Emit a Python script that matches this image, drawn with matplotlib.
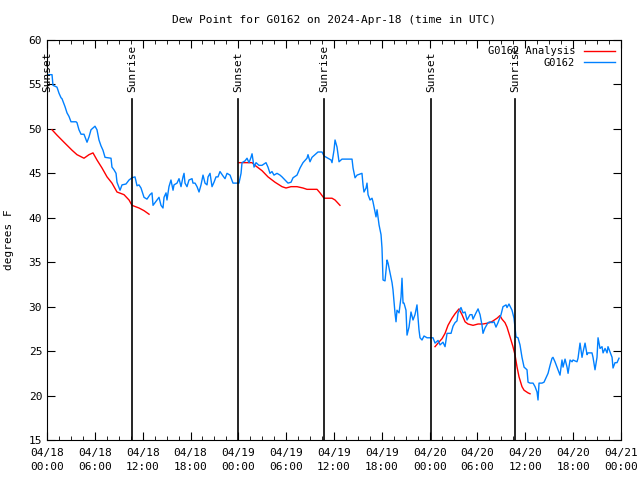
import matplotlib
matplotlib.use("Agg")
import matplotlib.pyplot as plt
import numpy as np

# hours since 2024-04-18 00:00 UTC
obs_hours = [0.0, 0.63, 0.75, 1.25, 1.51, 1.76, 1.88, 2.26, 2.51, 2.76, 3.01, 3.64, 3.76, 4.01, 4.27,
             4.64, 5.02, 5.27, 5.52, 5.77, 6.02, 6.27, 6.52, 6.77, 7.02, 7.28, 8.03, 8.15, 8.40, 8.66,
             8.78, 9.16, 9.41, 9.91, 10.29, 10.66, 11.04, 11.29, 11.54, 11.79, 12.17, 12.54, 12.92,
             13.17, 13.30, 13.55, 13.80, 14.05, 14.30, 14.55, 14.68, 14.93, 15.05, 15.30, 15.55,
             15.81, 15.93, 16.31, 16.56, 16.81, 17.06, 17.19, 17.31, 17.56, 17.81, 18.19, 18.31,
             18.57, 18.82, 19.07, 19.32, 19.57, 19.82, 20.07, 20.20, 20.45, 20.70, 20.95, 21.20,
             21.45, 21.70, 22.08, 22.33, 22.58, 22.96, 23.33, 24.08, 24.34, 24.46, 24.84, 25.09,
             25.34, 25.59, 25.72, 25.97, 26.22, 26.59, 26.97, 27.47, 27.72, 27.97, 28.22, 28.47,
             28.85, 29.23, 29.48, 29.85, 30.23, 30.61, 30.86, 31.36, 31.74, 32.11, 32.61, 32.74,
             32.99, 33.24, 33.62, 33.99, 34.50, 34.75, 35.25, 35.63, 35.75, 36.00, 36.13, 36.38,
             36.63, 37.00, 38.26, 38.39, 38.64, 38.89, 39.51, 39.64, 39.76, 40.02, 40.14, 40.27,
             40.52, 40.77, 40.89, 41.02, 41.27, 41.40, 41.65, 41.90, 42.02, 42.15, 42.40, 42.65,
             42.78, 43.03, 43.28, 43.40, 43.65, 43.78, 43.90, 44.16, 44.41, 44.53, 44.66, 44.78,
             45.03, 45.16, 45.41, 45.66, 45.91, 46.16, 46.41, 46.66, 46.79, 47.04, 47.29, 47.67,
             48.42, 48.67, 49.05, 49.30, 49.67, 49.93, 50.18, 50.68, 50.93, 51.18, 51.43, 51.56,
             51.93, 52.18, 52.44, 52.69, 53.06, 53.31, 53.44, 53.81, 54.07, 54.32, 54.57, 54.69,
             54.94, 55.32, 55.57, 55.82, 56.07, 56.32, 56.57, 56.95, 57.20, 57.58, 57.70, 57.95,
             58.33, 58.58, 58.83, 59.08, 59.33, 59.58, 59.84, 60.21, 60.34, 60.59, 60.97, 61.22,
             61.47, 61.59, 61.72, 62.09, 62.34, 62.59, 62.85, 63.10, 63.35, 63.47, 63.72, 63.97,
             64.10, 64.35, 64.60, 64.73, 64.98, 65.23, 65.36, 65.61, 65.86, 65.98, 66.48, 66.61,
             66.86, 67.11, 67.24, 67.49, 67.74, 67.86, 68.36, 68.49, 68.74, 68.99, 69.12, 69.37,
             69.62, 69.75, 70.00, 70.25, 70.37, 70.62, 70.88, 71.00, 71.25, 71.50, 71.75]
obs_dewpt = [56.1, 56.1, 54.9, 54.7, 54.0, 53.5, 53.4, 52.5, 51.8, 51.4, 50.8, 50.8, 50.7, 49.9, 49.4,
             49.4, 48.5, 49.1, 49.9, 50.1, 50.3, 49.9, 48.75, 48.1, 47.6, 46.8, 46.7, 45.7, 45.4, 45.0,
             44.0, 43.1, 43.7, 43.8, 44.25, 44.5, 44.6, 43.6, 43.7, 43.35, 42.3, 42.1, 42.6,
             42.8, 41.4, 41.7, 42.0, 42.3, 41.4, 41.1, 42.3, 42.8, 42.0, 43.5, 44.25,
             43.1, 43.7, 43.9, 44.4, 43.5, 44.6, 45.0, 43.9, 43.5, 44.25, 44.4, 43.9,
             43.9, 43.5, 42.9, 43.7, 44.8, 43.9, 43.7, 44.6, 45.0, 43.5, 44.0, 44.6,
             44.6, 45.2, 44.7, 44.4, 45.0, 44.8, 43.9, 43.9, 45.0, 46.2, 46.4, 46.7,
             46.2, 46.8, 47.2, 45.7, 46.2, 45.9, 45.9, 46.2, 45.7, 45.0, 45.2, 44.8,
             45.0, 44.8, 44.6, 44.25, 43.9, 44.0, 44.5, 44.8, 45.6, 46.2, 46.7, 47.1,
             46.3, 46.8, 47.1, 47.4, 47.4, 46.95, 46.7, 46.5, 46.2, 47.6, 48.75, 47.95,
             46.3, 46.6, 46.6, 45.6, 44.5, 44.8, 45.0, 43.7, 42.9, 43.35, 43.9, 42.6,
             42.0, 42.2, 41.8, 41.2, 40.1, 40.9, 39.2, 38.1, 36.6, 33.0, 32.9, 35.25,
             34.9, 33.8, 32.7, 31.9, 29.3, 28.3, 29.6, 29.3, 31.1, 33.2, 30.4, 30.4,
             29.6, 26.8, 27.7, 29.4, 28.5, 29.1, 30.2, 27.4, 26.5, 26.25, 26.7, 26.5,
             26.5, 25.9, 26.2, 25.7, 26.0, 25.5, 27.0, 27.0, 27.8, 28.2, 28.4, 29.3,
             29.9, 29.3, 29.4, 28.5, 29.1, 29.1, 28.6, 29.3, 29.75, 29.1, 27.9, 27.0,
             27.6, 28.2, 28.3, 28.2, 28.3, 27.7, 28.2, 29.1, 30.0, 30.2, 29.9, 30.3,
             29.6, 28.7, 26.6, 26.5, 25.7, 24.3, 23.2, 22.9, 21.5, 21.4, 21.4, 21.0,
             20.4, 19.5, 21.4, 21.4, 21.5, 22.0, 22.5, 23.4, 24.2, 24.3, 23.8, 23.2,
             22.9, 22.3, 24.0, 23.2, 24.1, 23.2, 22.5, 24.0, 23.8, 24.0, 23.8, 24.2,
             25.9, 24.3, 24.9, 25.9, 24.6, 24.8, 24.8, 24.3, 22.9, 24.3, 26.5, 25.3,
             25.5, 24.8, 25.3, 24.8, 25.5, 24.9, 24.3, 23.1, 23.7, 23.7, 24.2]

# analysis: three runs separated by NaN gaps
ana_hours = [0.63, 1.25, 2.13, 3.14, 3.76, 4.64, 5.27, 5.77, 6.27, 6.90, 7.53, 8.15, 8.78, 9.66,
             10.29, 10.66, 11.54, 12.17, 12.80, np.nan,
             24.08, 25.72, 26.09, 26.97, 27.72, 28.60, 29.48, 29.98, 30.61, 31.36, 32.11, 32.61,
             33.87, 34.25, 34.75, 35.75, 36.13, 36.75, np.nan,
             48.67, 49.05, 49.55, 49.93, 50.30, 50.80, 51.18, 51.68, 52.06, 52.44, 52.81, 53.44,
             54.07, 54.69, 55.57, 55.95, 56.45, 56.82, 57.07, 57.45, 57.70, 58.08, 58.45, 58.70,
             58.96, 59.21, 59.58, 59.84, 60.34, 60.59]
ana_dewpt = [49.9, 49.3, 48.5, 47.6, 47.1, 46.7, 47.1, 47.3, 46.5, 45.6, 44.6, 43.9, 42.9, 42.6,
             42.0, 41.4, 41.1, 40.8, 40.4, np.nan,
             46.2, 46.2, 45.9, 45.3, 44.6, 44.0, 43.5, 43.35, 43.5, 43.5, 43.35, 43.2,
             43.2, 42.8, 42.2, 42.2, 42.0, 41.4, np.nan,
             25.5, 25.9, 26.4, 27.0, 27.9, 28.7, 29.2, 29.75, 29.1, 28.3, 28.05, 27.9,
             28.05, 28.05, 28.2, 28.4, 28.7, 29.0, 28.6, 28.2, 27.7, 26.6, 25.5, 24.6,
             23.2, 22.1, 21.0, 20.6, 20.3, 20.2]

sun_hours = [0.05, 10.67, 23.97, 34.75, 48.2, 58.7]
sun_labels = ["Sunset", "Sunrise", "Sunset", "Sunrise", "Sunset", "Sunrise"]

tick_hours = list(range(0, 73, 6))
tick_labels = ["04/18\n00:00", "04/18\n06:00", "04/18\n12:00", "04/18\n18:00",
               "04/19\n00:00", "04/19\n06:00", "04/19\n12:00", "04/19\n18:00",
               "04/20\n00:00", "04/20\n06:00", "04/20\n12:00", "04/20\n18:00",
               "04/21\n00:00"]

plt.rcParams['font.family'] = 'DejaVu Sans Mono'
plt.rcParams['font.size'] = 8

fig = plt.figure(figsize=(6.4, 4.8), dpi=100)
ax = fig.add_axes([47/640, 40/480, 574/640, 400/480])

ax.plot(ana_hours, ana_dewpt, color='#ff0000', lw=1, label='G0162 Analysis')
ax.plot(obs_hours, obs_dewpt, color='#0080ff', lw=1, label='G0162')

for h, lab in zip(sun_hours, sun_labels):
    ax.plot([h, h], [15, 53.4], color='black', lw=1.2)
    ax.text(h, 54.1, lab, rotation=90, ha='center', va='bottom', fontsize=8)

ax.set_xlim(0, 72)
ax.set_ylim(15, 60)
ax.set_xticks(tick_hours)
ax.set_xticklabels(tick_labels, linespacing=1.5)
ax.set_xticks(np.arange(0, 72, 1.5), minor=True)
ax.set_yticks(range(15, 61, 5))
ax.tick_params(which='both', direction='in', top=True, right=True)
ax.tick_params(which='major', length=6)
ax.tick_params(which='minor', length=3)
ax.tick_params(axis='x', pad=6)
ax.set_ylabel('degrees F')
ax.yaxis.set_label_coords(-0.058, 0.5)
ax.set_title('Dew Point for G0162 on 2024-Apr-18 (time in UTC)', fontsize=8, pad=12)

ax.legend(loc='upper right', frameon=False, markerfirst=False, handlelength=3,
          borderaxespad=0.2, labelspacing=0.15, fontsize=7.5)

fig.savefig('out.png', dpi=100)
